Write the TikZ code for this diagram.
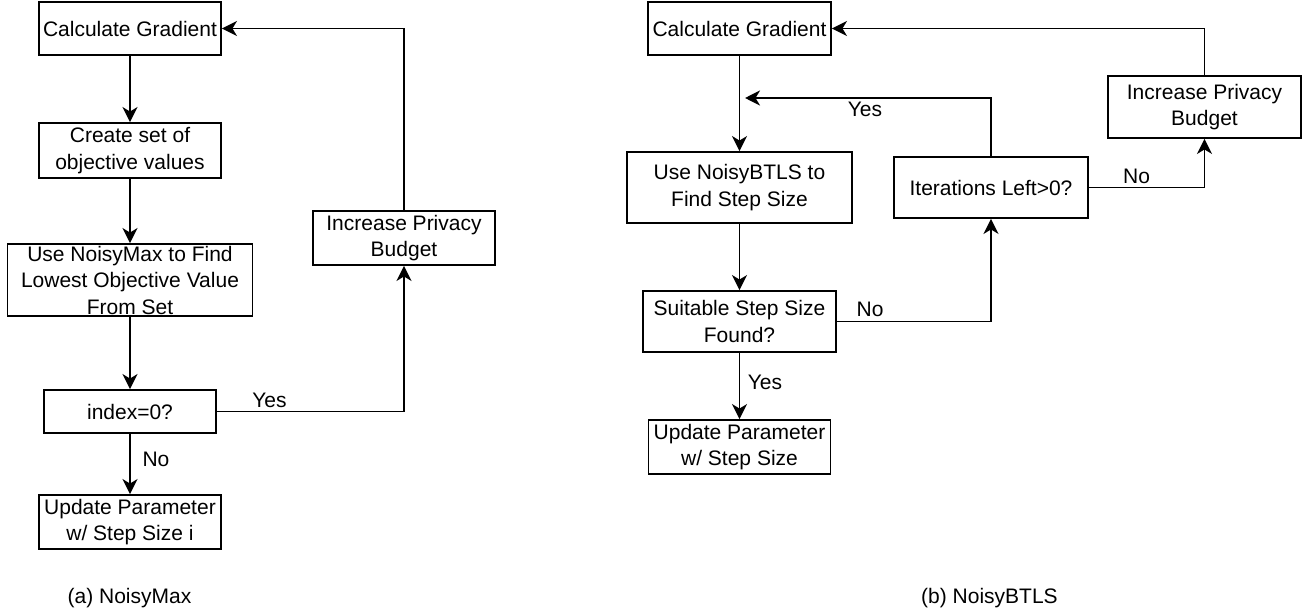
\documentclass[tikz,border=0pt]{standalone}
\usepackage{fontspec}
\setmainfont{Liberation Sans}
\usetikzlibrary{arrows.meta}
\begin{document}
\begin{tikzpicture}[x=1pt,y=-1pt,
  box/.style={draw, line width=1.9pt, inner sep=0pt, align=center,
    font=\fontsize{21}{26.5}\selectfont},
  flow/.style={line width=1.9pt, -{Stealth[length=15pt,width=15pt,inset=4.5pt]}},
  lbl/.style={font=\fontsize{21}{26}\selectfont, inner sep=0pt, anchor=base}]
\useasboundingbox (0,0) rectangle (1305,615);

% (a) NoisyMax
\node[box, minimum width=182pt, minimum height=53pt] (cgA) at (130,28.5) {Calculate Gradient};
\node[box, minimum width=182pt, minimum height=55pt] (csA) at (130,150.5) {Create set of\\objective values};
\node[box, minimum width=245pt, minimum height=72pt] (nmA) at (130,280) {Use NoisyMax to Find\\Lowest Objective Value\\From Set};
\node[box, minimum width=172pt, minimum height=43pt] (ixA) at (130,411.5) {index=0?};
\node[box, minimum width=182pt, minimum height=54pt] (upA) at (130,522) {Update Parameter\\w/ Step Size i};
\node[box, minimum width=182pt, minimum height=54pt] (ipA) at (404,238) {Increase Privacy\\Budget};

\draw[flow] (cgA) -- (csA);
\draw[flow] (csA) -- (nmA);
\draw[flow] (nmA) -- (ixA);
\draw[flow] (ixA) -- (upA);
\draw[flow] (ixA.east) -| (ipA.south);
\draw[flow] (ipA.north) |- (cgA.east);

\node[lbl] (yesA) at (269.5,407) {Yes};
\node[lbl] (noA) at (156,466) {No};
\node[lbl] (capA) at (129.5,603) {(a) NoisyMax};

% (b) NoisyBTLS
\node[box, minimum width=183pt, minimum height=53pt] (cgB) at (739.5,28.5) {Calculate Gradient};
\node[box, minimum width=225pt, minimum height=71pt] (nbB) at (739.5,187.5) {Use NoisyBTLS to\\Find Step Size};
\node[box, minimum width=193pt, minimum height=61pt] (ssB) at (739.5,321.5) {Suitable Step Size\\Found?};
\node[box, minimum width=182pt, minimum height=54pt] (upB) at (739.5,447) {Update Parameter\\w/ Step Size};
\node[box, minimum width=194pt, minimum height=61pt] (itB) at (991,187.5) {Iterations Left>0?};
\node[box, minimum width=193pt, minimum height=62pt] (ipB) at (1204.5,107) {Increase Privacy\\Budget};
\coordinate (yesEnd) at (745,98);

\draw[flow] (cgB) -- (nbB);
\draw[flow] (nbB) -- (ssB);
\draw[flow] (ssB) -- (upB);
\draw[flow] (ssB.east) -| (itB.south);
\draw[flow] (itB.north) |- (yesEnd);
\draw[flow] (itB.east) -| (ipB.south);
\draw[flow] (ipB.north) |- (cgB.east);

\node[lbl] (yesB1) at (865,117) {Yes};
\node[lbl] (noB1) at (870,316) {No};
\node[lbl] (yesB2) at (765,389) {Yes};
\node[lbl] (noB2) at (1136.5,183) {No};
\node[lbl] (capB) at (989.5,603) {(b) NoisyBTLS};
\end{tikzpicture}
\end{document}
